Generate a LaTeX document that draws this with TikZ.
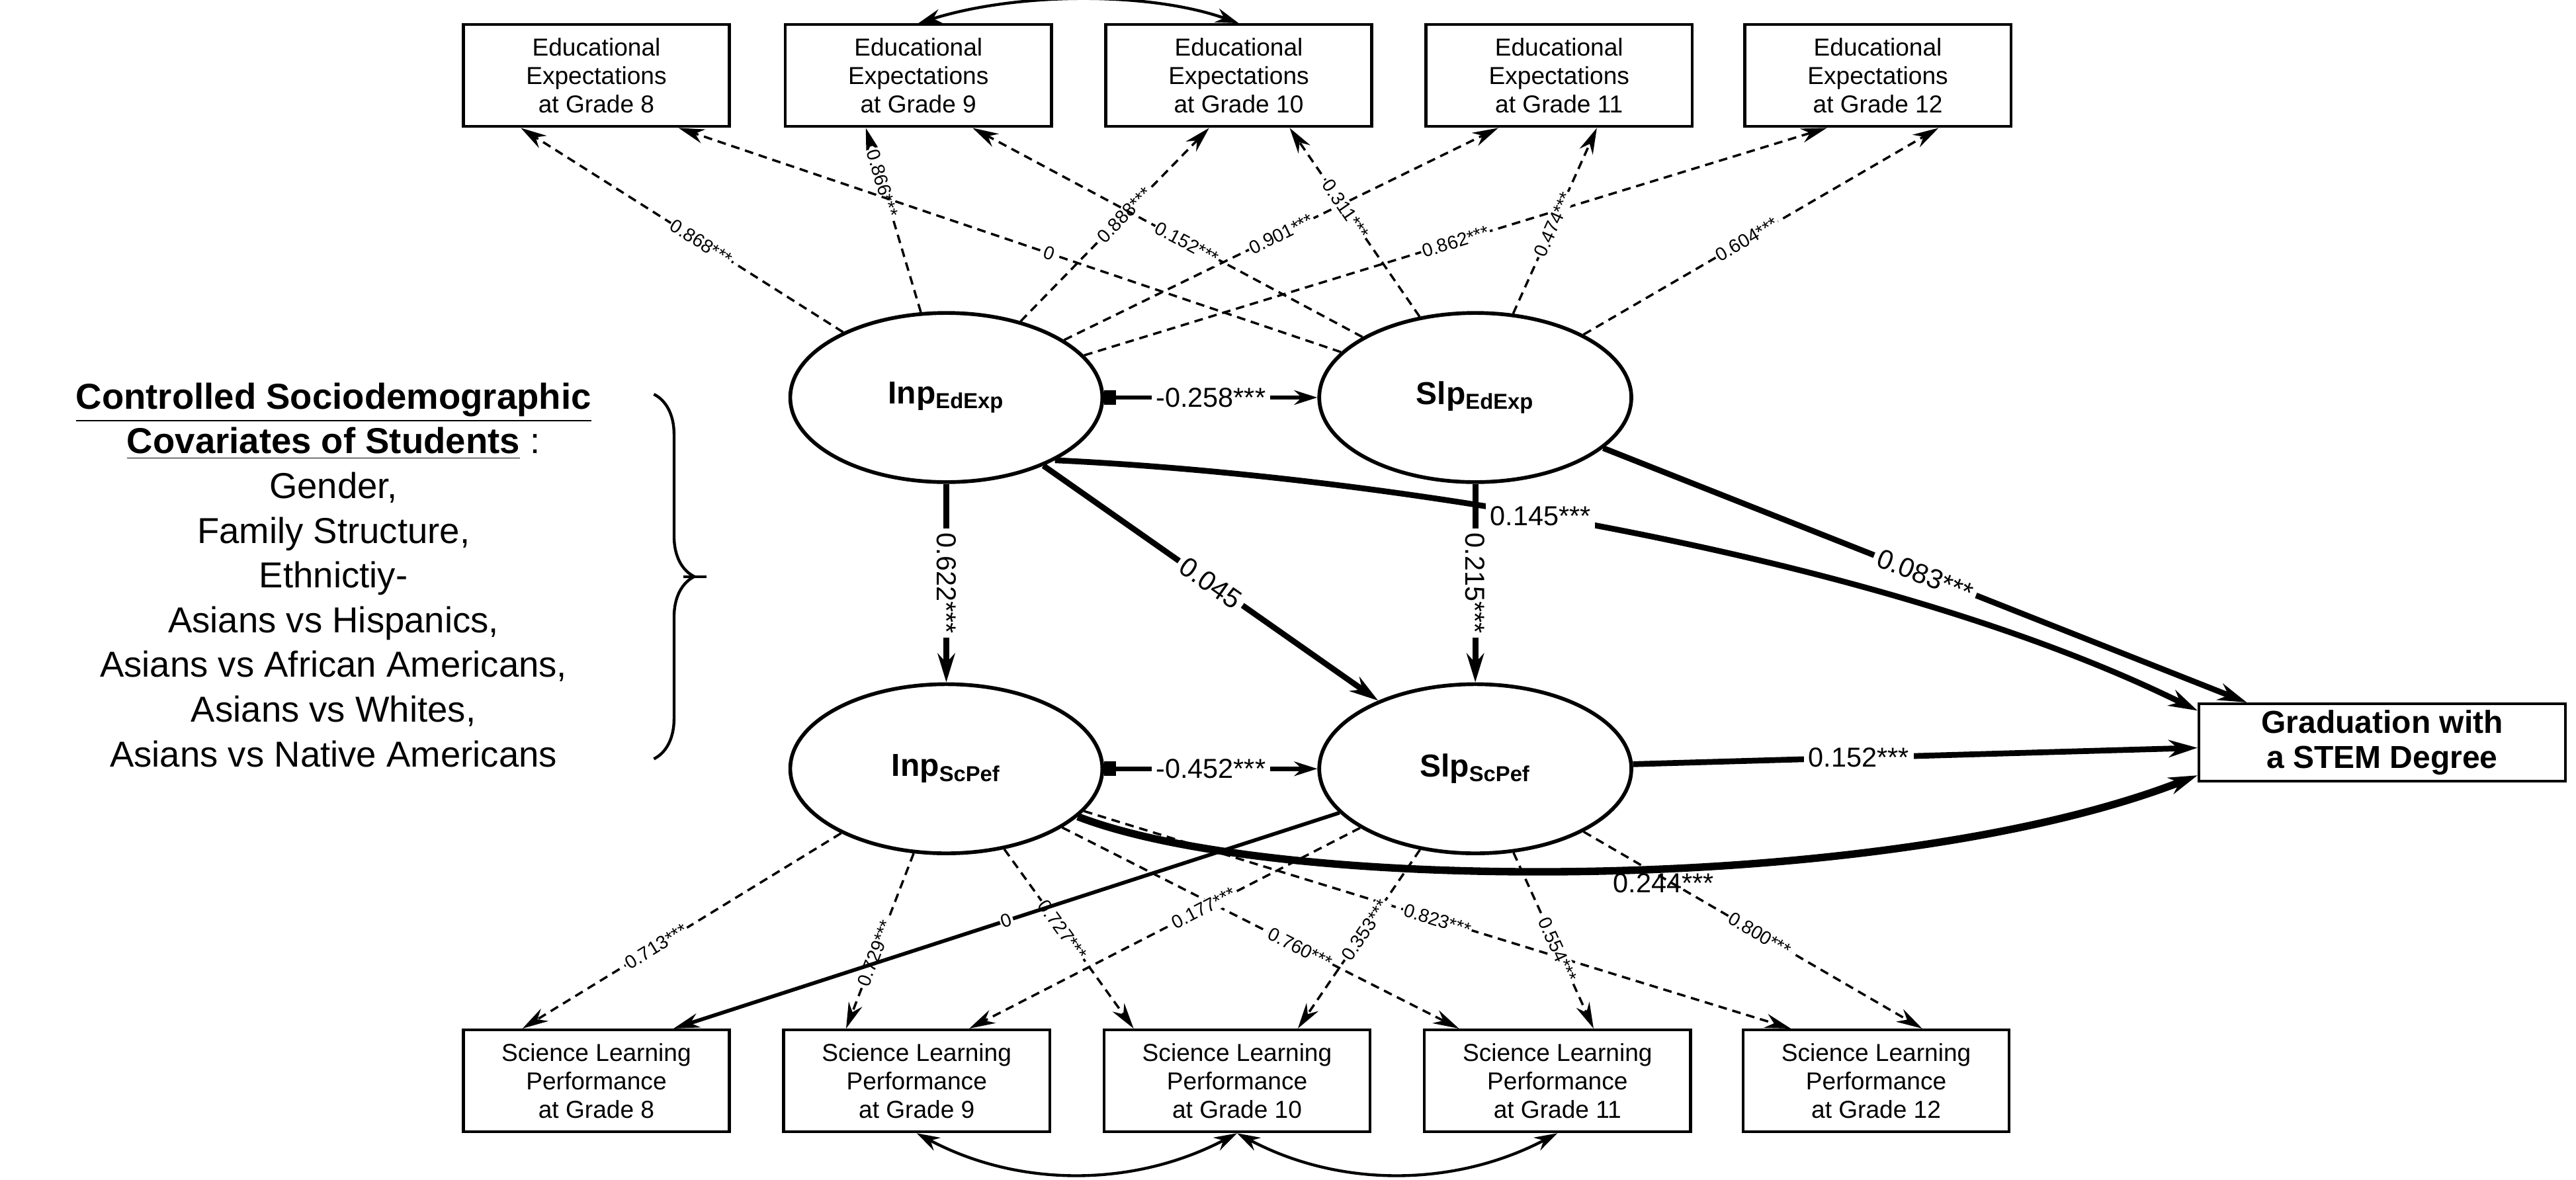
\documentclass[tikz,border=0pt]{standalone}
\usepackage{fontspec}
\setmainfont{Liberation Sans}
\usetikzlibrary{shapes.geometric,arrows.meta,decorations.pathreplacing}
\begin{document}
\begin{tikzpicture}[x=0.02cm,y=-0.02cm,
  box/.style={draw,line width=1pt,minimum width=3.24cm,minimum height=1.24cm,align=center,font=\fontsize{8.5}{9.8}\selectfont,inner sep=1pt},
  lat/.style={draw,ellipse,line width=1.3pt,minimum width=3.8cm,minimum height=2.06cm,font=\fontsize{11}{13}\selectfont\bfseries},
  load/.style={densely dashed,line width=0.8pt,-{Stealth[length=9pt,width=5pt]}},
  ll/.style={font=\fontsize{6.5}{7}\selectfont,sloped,fill=white,inner sep=0.5pt},
  sp/.style={line width=2pt,-{Stealth[length=10pt,width=6pt]}},
  sl/.style={font=\fontsize{9.5}{11}\selectfont,fill=white,inner sep=1.5pt},
  dbl/.style={line width=1pt,{Stealth[length=8pt,width=5pt]}-{Stealth[length=8pt,width=5pt]}}]
\useasboundingbox (0,0) rectangle (1568,718);
% top boxes
\node[box] (t8) at (363,46) {Educational\\Expectations\\at Grade 8};
\node[box] (t9) at (559,46) {Educational\\Expectations\\at Grade 9};
\node[box] (t10) at (754,46) {Educational\\Expectations\\at Grade 10};
\node[box] (t11) at (949,46) {Educational\\Expectations\\at Grade 11};
\node[box] (t12) at (1143,46) {Educational\\Expectations\\at Grade 12};
% bottom boxes
\node[box] (b8) at (363,658) {Science Learning\\Performance\\at Grade 8};
\node[box] (b9) at (558,658) {Science Learning\\Performance\\at Grade 9};
\node[box] (b10) at (753,658) {Science Learning\\Performance\\at Grade 10};
\node[box] (b11) at (948,658) {Science Learning\\Performance\\at Grade 11};
\node[box] (b12) at (1142,658) {Science Learning\\Performance\\at Grade 12};
% latents
\node[lat] (ie) at (576,242) {Inp\textsubscript{\fontsize{7.5}{8}\selectfont EdExp}};
\node[lat] (se) at (898,242) {Slp\textsubscript{\fontsize{7.5}{8}\selectfont EdExp}};
\node[lat] (is) at (576,468) {Inp\textsubscript{\fontsize{7.5}{8}\selectfont ScPef}};
\node[lat] (ss) at (898,468) {Slp\textsubscript{\fontsize{7.5}{8}\selectfont ScPef}};
\node[draw,line width=1pt,align=center,font=\fontsize{11}{12}\selectfont\bfseries,minimum width=4.46cm,minimum height=0.94cm,inner sep=1pt] (gr) at (1450,452) {Graduation with\\a STEM Degree};
% covariates
\node[align=center,font=\fontsize{12.5}{15.5}\selectfont] (cov) at (203,350) {\textbf{\underline{Controlled Sociodemographic}}\\\textbf{\underline{Covariates of Students}} :\\Gender,\\Family Structure,\\Ethnictiy-\\Asians vs Hispanics,\\Asians vs African Americans,\\Asians vs Whites,\\Asians vs Native Americans};
\coordinate (bra) at (398,240);
\coordinate (brb) at (398,462);
\draw[line width=1pt,decorate,decoration={brace,amplitude=14pt}] (bra) -- (brb);
\coordinate (brt) at (416,351);
\coordinate (brt2) at (430,351);
\draw[line width=1pt] (brt) -- (brt2);
% top loadings
\draw[load] (ie) -- node[ll,pos=0.44]{0.868***} ([xshift=-0.92cm]t8.south);
\draw[load] (ie) -- node[ll,pos=0.7]{0.866***} ([xshift=-0.64cm]t9.south);
\draw[load] (ie) -- node[ll,pos=0.55]{0.888***} ([xshift=-0.36cm]t10.south);
\draw[load] (ie) -- node[ll,pos=0.5]{0.901***} ([xshift=-0.74cm]t11.south);
\draw[load] (ie) -- node[ll,pos=0.5]{0.862***} ([xshift=-0.62cm]t12.south);
\draw[load] (se) -- node[ll,pos=0.44]{0} ([xshift=1cm]t8.south);
\draw[load] (se) -- node[ll,pos=0.45]{0.152***} ([xshift=0.66cm]t9.south);
\draw[load] (se) -- node[ll,pos=0.57]{0.311***} ([xshift=0.62cm]t10.south);
\draw[load] (se) -- node[ll,pos=0.48]{0.474***} ([xshift=0.46cm]t11.south);
\draw[load] (se) -- node[ll,pos=0.46]{0.604***} ([xshift=0.74cm]t12.south);
% bottom loadings
\draw[load] (is) -- node[ll,pos=0.58]{0.713***} ([xshift=-0.9cm]b8.north);
\draw[load] (is) -- node[ll,pos=0.57]{0.729***} ([xshift=-0.86cm]b9.north);
\draw[load] (is) -- node[ll,pos=0.45]{0.727***} ([xshift=-1.26cm]b10.north);
\draw[load] (is) -- node[ll,pos=0.6]{0.760***} ([xshift=-1.2cm]b11.north);
\draw[load] (is) -- node[ll,pos=0.5]{0.823***} ([xshift=-1.04cm]b12.north);
\draw[line width=1.3pt,-{Stealth[length=9pt,width=5pt]}] (ss) -- node[ll,pos=0.5]{0} ([xshift=0.94cm]b8.north);
\draw[load] (ss) -- node[ll,pos=0.4]{0.177***} ([xshift=0.64cm]b9.north);
\draw[load] (ss) -- node[ll,pos=0.45]{0.353***} ([xshift=0.74cm]b10.north);
\draw[load] (ss) -- node[ll,pos=0.55]{0.554***} ([xshift=0.44cm]b11.north);
\draw[load] (ss) -- node[ll,pos=0.52]{0.800***} ([xshift=0.56cm]b12.north);
% structural
\draw[line width=1.5pt,{Square[length=4pt,width=5pt]}-{Stealth[length=8pt,width=5pt]}] (ie) -- node[sl]{-0.258***} (se);
\draw[line width=1.5pt,{Square[length=4pt,width=5pt]}-{Stealth[length=8pt,width=5pt]}] (is) -- node[sl]{-0.452***} (ss);
\draw[sp] (ie) -- node[sl,sloped]{0.622***} (is);
\draw[sp] (ie) -- node[sl,sloped]{0.045} (ss);
\draw[sp] (se) -- node[sl,sloped]{0.215***} (ss);
\draw[sp] (se) -- node[sl,sloped,pos=0.5]{0.083***} ([xshift=0.6cm]gr.north west);
\draw[sp] (ss) -- node[sl,pos=0.4]{0.152***} (gr);
\draw[sp] (ie.-30) .. controls (850,290) and (1150,340) .. node[sl,pos=0.42]{0.145***} ([yshift=-0.1cm]gr.north west);
\draw[line width=2.6pt,-{Stealth[length=10pt,width=6pt]}] (is.-20) .. controls (780,545) and (1150,545) .. node[sl,pos=0.55,below=-1pt,fill=none]{0.244***} ([yshift=-0.4cm]gr.west);
% covariances
\draw[dbl] (t9.north) .. controls (620,-5) and (700,-5) .. (t10.north);
\draw[dbl] (b9.south) .. controls (620,723) and (690,723) .. (b10.south);
\draw[dbl] (b10.south) .. controls (815,723) and (885,723) .. (b11.south);
\end{tikzpicture}
\end{document}
